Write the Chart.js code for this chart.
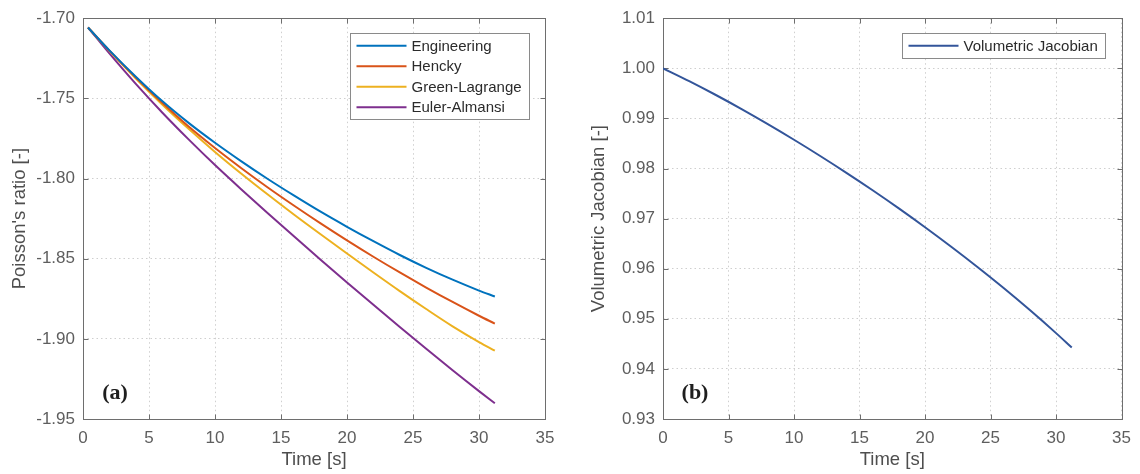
<!DOCTYPE html>
<html>
<head>
<meta charset="utf-8">
<script src="https://cdn.jsdelivr.net/npm/chart.js@4.4.0/dist/chart.umd.min.js"></script>
<style>
body{margin:0;background:#fff;}
#wrap{position:relative;width:1140px;height:474px;}
canvas{position:absolute;top:0;}
#poissonChart{left:0;}
#jacobianChart{left:570px;}
</style>
</head>
<body>
<div id="wrap">
<canvas id="poissonChart" width="570" height="474"></canvas>
<canvas id="jacobianChart" width="570" height="474"></canvas>
</div>
<script>
// values
const timePoisson = [0.38, 2, 4, 6, 8, 10, 12, 14, 16, 18, 20, 22, 24, 26, 28, 30, 31.2];
const engineering = [-1.7058, -1.7201, -1.7365, -1.7517, -1.7653, -1.7777, -1.7893, -1.8003, -1.8107, -1.8207, -1.8301, -1.8391, -1.8477, -1.8557, -1.8631, -1.8699, -1.8736];
const hencky = [-1.7058, -1.7202, -1.7370, -1.7528, -1.7676, -1.7810, -1.7936, -1.8056, -1.8170, -1.8280, -1.8386, -1.8488, -1.8586, -1.8680, -1.8770, -1.8856, -1.8905];
const greenLagrange = [-1.7058, -1.7204, -1.7376, -1.7538, -1.7690, -1.7834, -1.7970, -1.8100, -1.8226, -1.8348, -1.8468, -1.8586, -1.8702, -1.8814, -1.8922, -1.9020, -1.9074];
const eulerAlmansi = [-1.7058, -1.7220, -1.7410, -1.7588, -1.7756, -1.7916, -1.8068, -1.8216, -1.8362, -1.8506, -1.8648, -1.8788, -1.8926, -1.9062, -1.9196, -1.9326, -1.9402];

const timeJacobian = [0, 2, 4, 6, 8, 10, 12, 14, 16, 18, 20, 22, 24, 26, 28, 30, 31.2];
const jacobian = [1.0000, 0.99744, 0.99472, 0.99186, 0.98886, 0.98574, 0.98250, 0.97914, 0.97566, 0.97204, 0.96828, 0.96438, 0.96034, 0.95614, 0.95174, 0.94714, 0.94426];

const timeTicks = [0, 5, 10, 15, 20, 25, 30, 35];
const poissonTicks = [-1.95, -1.90, -1.85, -1.80, -1.75, -1.70];
const jacobianTicks = [0.93, 0.94, 0.95, 0.96, 0.97, 0.98, 0.99, 1.00, 1.01];

const sans = '"Liberation Sans", Arial, sans-serif';

function pairs(xs, ys) {
  return xs.map((x, i) => ({x: x, y: ys[i]}));
}

// box round the plot with inward ticks, like matlab "box on"
const framePlugin = {
  id: 'frame',
  beforeDatasetsDraw(chart) {
    const ctx = chart.ctx, a = chart.chartArea, sx = chart.scales.x, sy = chart.scales.y;
    const L = Math.round(a.left) + 0.5, R = Math.round(a.right) + 0.5;
    const T = Math.round(a.top) + 0.5, B = Math.round(a.bottom) + 0.5;
    ctx.save();
    ctx.strokeStyle = '#6e6e6e';
    ctx.lineWidth = 1;
    ctx.strokeRect(L, T, R - L, B - T);
    ctx.beginPath();
    sx.ticks.forEach(t => {
      const px = Math.round(sx.getPixelForValue(t.value)) + 0.5;
      ctx.moveTo(px, B); ctx.lineTo(px, B - 5);
      ctx.moveTo(px, T); ctx.lineTo(px, T + 5);
    });
    sy.ticks.forEach(t => {
      const py = Math.round(sy.getPixelForValue(t.value)) + 0.5;
      ctx.moveTo(L, py); ctx.lineTo(L + 5, py);
      ctx.moveTo(R, py); ctx.lineTo(R - 5, py);
    });
    ctx.stroke();
    ctx.restore();
  }
};

// boxed legend in the top right corner plus the panel letter
const boxLegendPlugin = {
  id: 'boxLegend',
  afterDatasetsDraw(chart, args, opts) {
    const ctx = chart.ctx, a = chart.chartArea, sets = chart.data.datasets;
    ctx.save();
    ctx.font = '15px ' + sans;
    const textW = Math.max(...sets.map(d => ctx.measureText(d.label).width));
    const rowH = 20.5;
    const w = Math.round(61 + textW + 8), h = Math.round(sets.length * rowH + 4);
    const x0 = Math.round(a.right - opts.right - w) + 0.5, y0 = Math.round(a.top + opts.top) + 0.5;
    ctx.fillStyle = '#fff';
    ctx.fillRect(x0, y0, w, h);
    ctx.strokeStyle = '#8a8a8a';
    ctx.lineWidth = 1;
    ctx.strokeRect(x0, y0, w, h);
    sets.forEach((d, i) => {
      const cy = y0 + 2 + rowH / 2 + i * rowH;
      ctx.strokeStyle = d.borderColor;
      ctx.lineWidth = 2;
      ctx.beginPath();
      ctx.moveTo(x0 + 6, cy);
      ctx.lineTo(x0 + 56, cy);
      ctx.stroke();
      ctx.fillStyle = '#2b2b2b';
      ctx.textBaseline = 'middle';
      ctx.fillText(d.label, x0 + 61, cy + 1);
    });
    ctx.font = 'bold 22px "Liberation Serif", "Times New Roman", serif';
    ctx.textAlign = 'center';
    ctx.textBaseline = 'middle';
    ctx.fillStyle = '#1e1e1e';
    ctx.fillText(opts.panel, a.left + 32, a.bottom - 26);
    ctx.restore();
  }
};

function makeChart(el, datasets, yTicks, yTitle, panel, yWidth, yTitlePad, rightPad, legendRight) {
  return new Chart(el, {
    type: 'line',
    data: {datasets: datasets},
    plugins: [framePlugin, boxLegendPlugin],
    options: {
      responsive: false,
      animation: false,
      devicePixelRatio: 1,
      layout: {padding: {left: 0, right: rightPad, top: 15, bottom: 0}},
      elements: {point: {radius: 0}, line: {borderWidth: 2, cubicInterpolationMode: 'monotone'}},
      plugins: {
        legend: {display: false},
        tooltip: {enabled: false},
        boxLegend: {panel: panel, right: legendRight, top: 15}
      },
      scales: {
        x: {
          type: 'linear',
          min: 0, max: 35,
          afterBuildTicks: s => { s.ticks = timeTicks.map(v => ({value: v})); },
          afterFit: s => { s.height = 55; },
          grid: {color: '#cfcfcf', lineWidth: 1, drawTicks: false},
          border: {display: false, dash: [1.5, 3]},
          ticks: {color: '#5e5e5e', font: {family: sans, size: 17}, padding: 9, maxRotation: 0, autoSkip: false},
          title: {display: true, text: 'Time [s]', color: '#4e4e4e', font: {family: sans, size: 18.5}, padding: {top: 0, bottom: 3}}
        },
        y: {
          type: 'linear',
          min: yTicks[0], max: yTicks[yTicks.length - 1],
          afterBuildTicks: s => { s.ticks = yTicks.map(v => ({value: v})); },
          afterFit: s => { s.width = yWidth; },
          grid: {color: '#cfcfcf', lineWidth: 1, drawTicks: false},
          border: {display: false, dash: [1.5, 3]},
          ticks: {color: '#5e5e5e', font: {family: sans, size: 17}, padding: 8, autoSkip: false,
            callback: v => v.toFixed(2)},
          title: {display: true, text: yTitle, color: '#4e4e4e', font: {family: sans, size: 18.5}, padding: {top: yTitlePad, bottom: 0}}
        }
      }
    }
  });
}

window.onload = function () {
  makeChart(document.getElementById('poissonChart'), [
    {label: 'Engineering', data: pairs(timePoisson, engineering), borderColor: '#0072BD'},
    {label: 'Hencky', data: pairs(timePoisson, hencky), borderColor: '#D95319'},
    {label: 'Green-Lagrange', data: pairs(timePoisson, greenLagrange), borderColor: '#EDB120'},
    {label: 'Euler-Almansi', data: pairs(timePoisson, eulerAlmansi), borderColor: '#7E2F8E'}
  ], poissonTicks, "Poisson's ratio [-]", '(a)', 83, 9, 25, 16);

  makeChart(document.getElementById('jacobianChart'), [
    {label: 'Volumetric Jacobian', data: pairs(timeJacobian, jacobian), borderColor: '#33559A'}
  ], jacobianTicks, 'Volumetric Jacobian [-]', '(b)', 93, 18, 15, 17);
};
</script>
</body>
</html>
